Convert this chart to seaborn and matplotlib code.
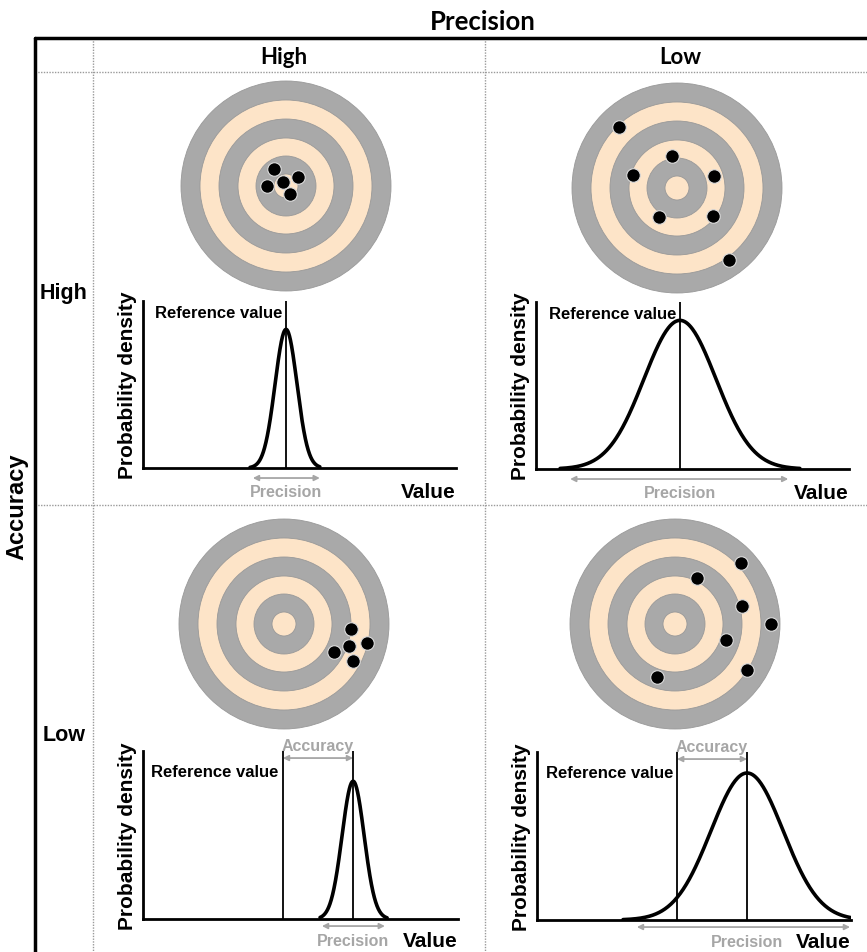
import numpy as np
import pandas as pd
import matplotlib
matplotlib.use('Agg')
import matplotlib.pyplot as plt
from matplotlib.patches import Circle
from matplotlib.lines import Line2D
import seaborn as sns

W, H = 867, 953

# panel order: (accuracy, precision) = HH, HL, LH, LL
panels = ['hh', 'hl', 'lh', 'll']
col_labels = ['High', 'Low']
row_labels = ['High', 'Low']

# target rings, outer to inner (px)
ring_radii = [105, 86, 67, 48, 30, 12]
ring_colors = ['#a9a9a9', '#fde4c8', '#a9a9a9', '#fde4c8', '#a9a9a9', '#fde4c8']

# shots, offset from target centre (px, y up)
shots_x = {
    'hh': [-11.7, 12.3, -3.3, -19.3, 4.0],
    'hl': [-58.0, -5.3, -44.3, 37.3, -17.7, 35.7, 52.3],
    'lh': [66.7, 65.0, 50.0, 82.7, 68.7],
    'll': [66.0, 22.3, 67.3, 96.0, 50.7, 72.3, -17.7],
}
shots_y = {
    'hh': [17.0, 8.7, 4.3, -0.3, -8.0],
    'hl': [60.7, 31.7, 13.3, 12.3, -29.0, -27.7, -71.7],
    'lh': [-5.0, -21.7, -28.3, -19.0, -36.7],
    'll': [61.0, 45.7, 18.3, 0.0, -15.7, -46.0, -53.3],
}

# distributions (x axis 0-100, y axis 0-1)
ref_value = [45.7, 46.0, 44.4, 44.6]
mean_value = [45.7, 46.0, 66.7, 66.9]
sigma = [3.5, 11.5, 3.5, 11.5]
peak = [0.83, 0.89, 0.82, 0.875]
curve_lo = [34.2, 7.7, 56.2, 27.4]
curve_hi = [56.5, 84.3, 77.5, 100.0]
prec_lo = [35.1, 10.9, 56.8, 31.8]
prec_hi = [56.5, 80.6, 76.8, 99.7]

# layout (px)
plot_boxes = [(143, 302, 456, 469), (536, 303, 849, 470),
              (143, 752, 458, 920), (537, 753, 851, 921)]
target_centres = [(286, 187), (677, 189), (284, 625), (675, 625)]

sns.set_theme(style='white')
narrow = ['Liberation Sans Narrow', 'Liberation Sans', 'DejaVu Sans']
arial = ['Liberation Sans', 'DejaVu Sans']
head = ['Lato', 'DejaVu Sans']
plt.rcParams['font.family'] = narrow
plt.rcParams['text.color'] = 'black'

fig = plt.figure(figsize=(W / 100, H / 100), dpi=100)


def fx(x):
    return x / W


def fy(y):
    return 1 - y / H


# table lines
dot = dict(color='#9a9a9a', lw=1, ls=(0, (1, 1)))
fig.add_artist(Line2D([fx(35), 1], [fy(73), fy(73)], **dot))
fig.add_artist(Line2D([fx(35), 1], [fy(506), fy(506)], **dot))
fig.add_artist(Line2D([fx(93), fx(93)], [fy(39), 0], **dot))
fig.add_artist(Line2D([fx(485), fx(485)], [fy(39), 0], **dot))
fig.add_artist(Line2D([fx(35), 1], [fy(39), fy(39)], color='black', lw=2.5))
fig.add_artist(Line2D([fx(35), fx(35)], [fy(39), 0], color='black', lw=2.5))

fig.text(fx(483), fy(22), 'Precision', family=head, fontsize=18.5, fontweight='bold',
         ha='center', va='center')
fig.text(fx(284), fy(57), col_labels[0], family=head, fontsize=16, fontweight='bold',
         ha='center', va='center')
fig.text(fx(680), fy(57), col_labels[1], family=head, fontsize=16, fontweight='bold',
         ha='center', va='center')
fig.text(fx(17), fy(507), 'Accuracy', family=arial, fontsize=17, fontweight='bold',
         rotation=90, ha='center', va='center')
fig.text(fx(64), fy(293), row_labels[0], family=arial, fontsize=15.5, fontweight='bold',
         ha='center', va='center')
fig.text(fx(64), fy(736), row_labels[1], family=arial, fontsize=15.5, fontweight='bold',
         ha='center', va='center')

grey = '#a6a6a6'
for i, p in enumerate(panels):
    # target
    cx, cy = target_centres[i]
    size = 230
    tax = fig.add_axes([fx(cx - size / 2), fy(cy + size / 2), size / W, size / H])
    for r, c in zip(ring_radii, ring_colors):
        tax.add_patch(Circle((0, 0), r, facecolor=c, edgecolor='#999999', lw=0.6))
    sns.scatterplot(x=shots_x[p], y=shots_y[p], ax=tax, color='black', s=95,
                    edgecolor='#dddddd', linewidth=0.8, zorder=5)
    tax.set_xlim(-size / 2, size / 2)
    tax.set_ylim(-size / 2, size / 2)
    tax.set_aspect('equal')
    tax.axis('off')

    # distribution
    x0, y0, x1, y1 = plot_boxes[i]
    ax = fig.add_axes([fx(x0), fy(y1), (x1 - x0) / W, (y1 - y0) / H])
    xs = np.linspace(curve_lo[i], curve_hi[i], 300)
    df = pd.DataFrame({'value': xs,
                       'density': peak[i] * np.exp(-0.5 * ((xs - mean_value[i]) / sigma[i]) ** 2)})
    sns.lineplot(data=df, x='value', y='density', ax=ax, color='black', lw=2.6)
    ax.set_xlim(0, 100)
    ax.set_ylim(0, 1)
    ax.set_xticks([])
    ax.set_yticks([])
    ax.set_xlabel('')
    ax.set_ylabel('')
    sns.despine(ax=ax)
    for s in ['left', 'bottom']:
        ax.spines[s].set_color('black')
        ax.spines[s].set_linewidth(2)
    ax.set_facecolor('none')

    ax.axvline(ref_value[i], color='black', lw=1.3)
    low_acc = i >= 2
    if low_acc:
        ax.axvline(mean_value[i], color='black', lw=1.3)
        ax.annotate('', xy=(mean_value[i], 0.958), xytext=(ref_value[i], 0.958),
                    arrowprops=dict(arrowstyle='<|-|>', color=grey, lw=1.3,
                                    mutation_scale=8, shrinkA=0, shrinkB=0),
                    annotation_clip=False)
        ax.text((ref_value[i] + mean_value[i]) / 2, 1.03, 'Accuracy', color=grey,
                fontsize=11.5, fontweight='bold', ha='center', va='center', clip_on=False)
        ref_y = 0.88
        ty = -0.13
        ay = -0.042
    else:
        ref_y = 0.932
        ty = -0.14
        ay = -0.06
    ax.text(ref_value[i] - 1.3, ref_y, 'Reference value', fontsize=12, fontweight='bold',
            ha='right', va='center', color='black')
    ax.annotate('', xy=(prec_hi[i], ay), xytext=(prec_lo[i], ay),
                arrowprops=dict(arrowstyle='<|-|>', color=grey, lw=1.3,
                                mutation_scale=8, shrinkA=0, shrinkB=0),
                annotation_clip=False)
    ax.text(mean_value[i], ty, 'Precision', color=grey, fontsize=11.5, fontweight='bold',
            ha='center', va='center', clip_on=False)
    ax.text(100, ty, 'Value', fontsize=15, fontweight='bold', ha='right', va='center',
            clip_on=False)
    ax.text(-0.05, 0.5, 'Probability density', transform=ax.transAxes, rotation=90,
            fontsize=15, fontweight='bold', ha='center', va='center')

fig.savefig('out.png', dpi=100)
